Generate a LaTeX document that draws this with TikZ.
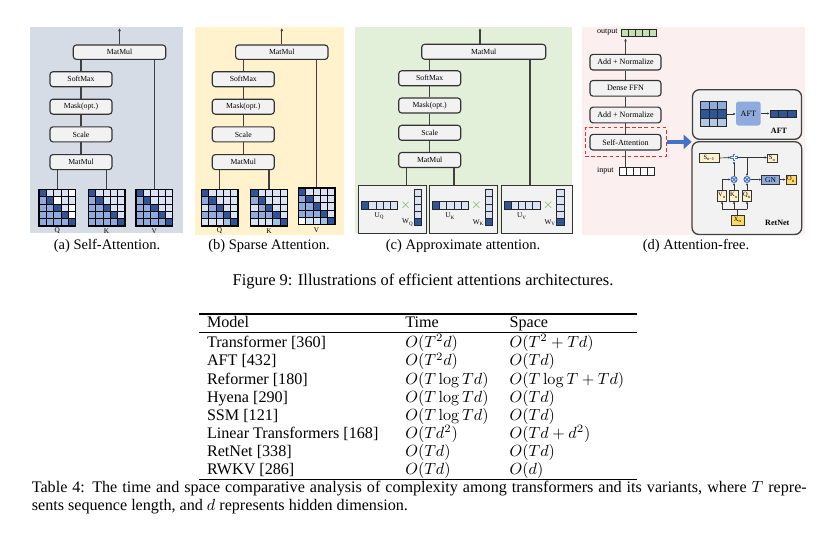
\documentclass[tikz,border=0pt]{standalone}
\usepackage[no-math]{fontspec}
\setmainfont{Liberation Serif}
\usetikzlibrary{arrows.meta}
\newlength\upx
\setlength\upx{0.62pt}
\definecolor{cD}{HTML}{2F5597}
\definecolor{cM}{HTML}{8FAADC}
\definecolor{cN}{HTML}{B4C7E7}
\definecolor{cL}{HTML}{DAE3F3}
\definecolor{cW}{HTML}{FFFFFF}
\definecolor{cS}{HTML}{9DC3E6}
\definecolor{cG}{HTML}{C5E0B4}
\definecolor{bgA}{HTML}{D6DCE5}
\definecolor{bgB}{HTML}{FFF2CC}
\definecolor{bgC}{HTML}{E2F0D9}
\definecolor{bgD}{HTML}{FBF0EF}
\definecolor{boxgray}{HTML}{F2F2F2}
\definecolor{lyel}{HTML}{FFF2CC}
\definecolor{dyel}{HTML}{FFD966}
\definecolor{aftblue}{HTML}{8FAADC}
\definecolor{arrowblue}{HTML}{4472C4}
\definecolor{plusblue}{HTML}{4472C4}
\definecolor{dashred}{HTML}{E03030}
\definecolor{xgreen}{HTML}{70AD47}
\newcommand\boxfont{\fontsize{4.8}{5.5}\selectfont}
\newcommand\dfont{\fontsize{5}{6}\selectfont}
\newcommand\rfont{\fontsize{4}{4.5}\selectfont}
\newcommand\fivemat[3]{%
  \foreach \mc [count=\mi from 0] in {#3} {%
    \pgfmathtruncatemacro\mrow{\mi/5}%
    \pgfmathtruncatemacro\mcol{\mi-5*\mrow}%
    \filldraw[fill=c\mc, draw=black, line width=0.45pt] ({#1+\mcol*7.33},{#2+\mrow*7.33}) rectangle ++(7.33,7.33);
  }%
}
\newcommand\apbox[4]{%
  \node[apb, minimum width=#3\upx, anchor=north west] (#1) at (#2,185) {};
  \foreach \k in {0,...,4} {
    \filldraw[fill=cL, cellline] ({#2+3.3+\k*7.2},201.7) rectangle ++(7.2,7.6);
    \filldraw[fill=cL, cellline] ({#2+56},{189.3+\k*7.3}) rectangle ++(7.4,7.3);
  }
  \filldraw[fill=cD, cellline] ({#2+3.3},201.7) rectangle ++(7.2,7.6);
  \filldraw[fill=cD, cellline] ({#2+56},{189.3+4*7.3}) rectangle ++(7.4,7.3);
  \node[greenx] (#1x) at ({#2+47.4},205.5) {$\times$};
  \node[lbl] (#1u) at ({#2+21.3},216) {U\textsubscript{#4}};
  \node[lbl, anchor=east] (#1w) at ({#2+55.5},222.5) {W\textsubscript{#4}};
}
\begin{document}
\begin{tikzpicture}[x=0.62pt,y=-0.62pt,
  blk/.style={draw=black!80, fill=boxgray, rounded corners=3\upx, line width=0.7pt, inner sep=0, font=\boxfont},
  sbox/.style={minimum width=62\upx, minimum height=15\upx},
  dbox/.style={blk, font=\dfont, minimum width=71\upx, minimum height=15.7\upx},
  conn/.style={draw=black!75, line width=0.75pt},
  arr/.style={conn, -{Latex[length=1.9pt,width=1.8pt]}},
  sarr/.style={draw=black!80, line width=0.4pt, -{Latex[length=1.4pt,width=1.4pt]}},
  matnode/.style={draw=black, line width=0.8pt, minimum size=36.65\upx, inner sep=0},
  lbl/.style={font=\fontsize{4.5}{5}\selectfont, inner sep=0},
  cellline/.style={draw=black!85, line width=0.4pt},
  apb/.style={draw=black!80, fill=boxgray, line width=0.6pt, minimum height=48.3\upx, inner sep=0},
  greenx/.style={text=xgreen, font=\fontsize{8}{8}\selectfont, inner sep=0},
  rbox/.style={draw=black!75, fill=boxgray, rounded corners=7\upx, line width=0.8pt, inner sep=0},
  ybox/.style={draw=black!80, fill=lyel, line width=0.4pt, inner sep=0, font=\rfont},
  mulnode/.style={circle, draw=plusblue, line width=0.6pt, minimum size=6\upx, inner sep=0},
  subcap/.style={font=\fontsize{9}{11}\selectfont, inner sep=0},
  tab/.style={font=\fontsize{10}{12}\selectfont, inner sep=0, anchor=base west}
]
\useasboundingbox (0,0) rectangle (826,534);
\fill[white] (0,0) rectangle (826,534);
% backgrounds
\fill[bgA] (30,27) rectangle (183,233);
\fill[bgB] (195,27) rectangle (344,235);
\fill[bgC] (355,27) rectangle (572,233);
\fill[bgD] (582,27) rectangle (805,235);

% ---------------- (a) ----------------
\node[blk, minimum width=92.4\upx, minimum height=14.3\upx] (aMM1) at (119.5,52.2) {MatMul};
\node[blk, sbox] (aSM) at (81,79.2) {SoftMax};
\node[blk, sbox] (aMK) at (81,106.7) {Mask(opt.)};
\node[blk, sbox] (aSC) at (81,134.4) {Scale};
\node[blk, sbox] (aMM2) at (81,162.1) {MatMul};
\coordinate (aOut) at (119.5,28);
\fivemat{39}{189.3}{D,L,L,L,W, M,D,W,L,L, M,M,D,L,W, M,M,M,D,W, M,M,M,M,D}
\fivemat{88.3}{189.3}{D,L,L,L,L, M,D,L,L,L, M,M,D,L,L, M,M,M,D,L, M,M,M,M,D}
\fivemat{136}{189.3}{D,L,L,L,L, M,D,L,L,L, M,M,D,L,L, M,M,M,D,L, M,M,M,M,D}
\node[matnode] (aQ) at (57.33,207.63) {};
\node[matnode] (aK) at (106.63,207.63) {};
\node[matnode] (aV) at (154.33,207.63) {};
\node[lbl] (aQl) at (57.3,231) {Q};
\node[lbl] (aKl) at (106.6,231) {K};
\node[lbl] (aVl) at (154.3,231) {V};
\draw[arr] (aMM1.north) -- (aOut);
\draw[conn] (aMM1.south -| aSM.north) -- (aSM.north);
\draw[conn] (aSM) -- (aMK);
\draw[conn] (aMK) -- (aSC);
\draw[conn] (aSC) -- (aMM2);
\draw[conn] (aMM2.south -| aQ.north) -- (aQ.north);
\draw[conn] (aMM2.south -| aK.north) -- (aK.north);
\draw[conn] (aMM1.south -| aV.north) -- (aV.north);

% ---------------- (b) ----------------
\begin{scope}[shift={(162.3,0)}]
\node[blk, minimum width=92.4\upx, minimum height=14.3\upx] (bMM1) at (119.5,52.2) {MatMul};
\node[blk, sbox] (bSM) at (81,79.2) {SoftMax};
\node[blk, sbox] (bMK) at (81,106.7) {Mask(opt.)};
\node[blk, sbox] (bSC) at (81,134.4) {Scale};
\node[blk, sbox] (bMM2) at (81,162.1) {MatMul};
\coordinate (bOut) at (119.5,28);
\fivemat{39}{189.3}{D,L,L,L,L, M,D,L,L,L, L,M,D,L,L, M,M,M,D,L, L,L,L,S,D}
\fivemat{88.3}{189.3}{D,L,L,L,L, M,D,L,L,L, L,M,D,L,L, M,M,M,D,L, L,L,L,S,D}
\fivemat{136}{188}{D,L,L,L,L, M,D,L,L,L, M,M,D,L,L, M,M,M,D,L, W,L,L,S,D}
\node[matnode] (bQ) at (57.33,207.63) {};
\node[matnode] (bK) at (106.63,207.63) {};
\node[matnode] (bV) at (154.33,206.33) {};
\node[lbl] (bQl) at (57.3,231) {Q};
\node[lbl] (bKl) at (106.6,231) {K};
\node[lbl] (bVl) at (154.3,230) {V};
\draw[arr] (bMM1.north) -- (bOut);
\draw[conn] (bMM1.south -| bSM.north) -- (bSM.north);
\draw[conn] (bSM) -- (bMK);
\draw[conn] (bMK) -- (bSC);
\draw[conn] (bSC) -- (bMM2);
\draw[conn] (bMM2.south -| bQ.north) -- (bQ.north);
\draw[conn] (bMM2.south -| bK.north) -- (bK.north);
\draw[conn] (bMM1.south -| bV.north) -- (bV.north);
\end{scope}

% ---------------- (c) ----------------
\node[blk, minimum width=124\upx, minimum height=15\upx] (cMM1) at (483.7,51.8) {MatMul};
\node[blk, sbox] (cSM) at (429.7,78.3) {SoftMax};
\node[blk, sbox] (cMK) at (429.7,105.5) {Mask(opt.)};
\node[blk, sbox] (cSC) at (429.7,132.8) {Scale};
\node[blk, sbox] (cMM2) at (429.7,160) {MatMul};
\coordinate (cOut) at (480,28);
\apbox{cQ}{358.3}{67.7}{Q}
\apbox{cK}{429}{67.7}{K}
\apbox{cV}{500.7}{71}{V}
\draw[arr] (cMM1.north -| cOut) -- (cOut);
\draw[conn] (cMM1.south -| cSM.north) -- (cSM.north);
\draw[conn] (cSM) -- (cMK);
\draw[conn] (cMK) -- (cSC);
\draw[conn] (cSC) -- (cMM2);
\path ([xshift=-23\upx]cMM2.south) coordinate (cL1);
\path ([xshift=24.3\upx]cMM2.south) coordinate (cL2);
\path ([xshift=46.3\upx]cMM1.south) coordinate (cL3);
\draw[conn] (cL1) -- (cL1 |- cQ.north);
\draw[conn] (cL2) -- (cL2 |- cK.north);
\draw[conn] (cL3) -- (cL3 |- cV.north);

% ---------------- (d) ----------------
\node[dbox] (dAN1) at (625.5,62.2) {Add + Normalize};
\node[dbox] (dFFN) at (625.5,88.3) {Dense FFN};
\node[dbox] (dAN2) at (625.5,115) {Add + Normalize};
\node[dbox] (dSA) at (625.5,142.2) {Self-Attention};
\node[draw=dashred, dash pattern=on 2.2pt off 1.6pt, line width=0.6pt, minimum width=81.7\upx, minimum height=28.3\upx, inner sep=0] (dDash) at (625.85,141.85) {};
% output vector
\foreach \k in {0,...,4} \filldraw[fill=cG, cellline] ({621+\k*7},29.3) rectangle ++(7,7.2);
\node[draw=black!85, line width=0.5pt, minimum width=35\upx, minimum height=7.2\upx, inner sep=0] (dOutV) at (638.5,32.9) {};
\node[font=\dfont, inner sep=0, anchor=east] (dOutL) at (618,32.5) {output};
% input vector
\foreach \k in {0,...,4} \filldraw[fill=white, cellline] ({619.3+\k*7},167.7) rectangle ++(7,7.3);
\node[draw=black!85, line width=0.5pt, minimum width=35\upx, minimum height=7.3\upx, inner sep=0] (dInV) at (636.8,171.35) {};
\node[font=\dfont, inner sep=0, anchor=east] (dInL) at (614,170.8) {input};
\draw[arr] (dAN1.north) -- ([yshift=-1.5\upx]dAN1.north |- dOutV.south);
\draw[conn] (dFFN) -- (dAN1);
\draw[conn] (dAN2) -- (dFFN);
\draw[conn] (dSA) -- (dAN2);
\draw[conn] (dSA.south) -- (dSA.south |- dInV.north);
% AFT box
\node[rbox, minimum width=109\upx, minimum height=49.6\upx] (dAFTb) at (747,114.5) {};
\foreach \mc [count=\mi from 0] in {M,M,M,D,D,D,N,N,N} {
  \pgfmathtruncatemacro\mrow{\mi/3}
  \pgfmathtruncatemacro\mcol{\mi-3*\mrow}
  \filldraw[fill=c\mc, draw=black!85, line width=0.4pt] ({700+\mcol*8.83},{101.3+\mrow*8.4}) rectangle ++(8.83,8.4);
}
\node[draw=black!85, line width=0.5pt, minimum width=26.5\upx, minimum height=25.2\upx, inner sep=0] (dAM) at (713.25,113.9) {};
\node[fill=aftblue, rounded corners=2.5\upx, minimum width=24.5\upx, minimum height=24\upx, inner sep=0, font=\dfont] (dAFT) at (748.3,113.5) {AFT};
\foreach \k in {0,...,2} \filldraw[fill=cD, cellline] ({770+\k*8.67},110) rectangle ++(8.67,7.5);
\node[draw=black!85, line width=0.5pt, minimum width=26\upx, minimum height=7.5\upx, inner sep=0] (dAV) at (783,113.75) {};
\draw[sarr] (dAM.east) -- (dAM.east -| dAFT.west);
\draw[sarr] (dAFT.east) -- (dAFT.east -| dAV.west);
\node[font=\fontsize{5}{6}\selectfont\bfseries, inner sep=0] (dAFTl) at (779,131) {AFT};
% blue arrow
\coordinate (dBA) at (691.7,141.85);
\draw[draw=arrowblue, line width=4.5\upx, -{Triangle[length=5pt,width=8.7pt]}] (dDash.east) -- (dBA);
% RetNet box
\node[rbox, minimum width=109.7\upx, minimum height=92.8\upx] (dRNb) at (746.85,188.1) {};
\node[ybox, minimum width=20\upx, minimum height=9.4\upx] (dS1) at (709.3,158) {S\textsubscript{n−1}};
\node[circle, minimum size=7\upx, inner sep=0] (dPlus) at (734,157.5) {};
\draw[plusblue, line width=2.6\upx] (dPlus.north) -- (dPlus.south) (dPlus.west) -- (dPlus.east);
\draw[white, line width=0.9\upx] ([yshift=-0.9\upx]dPlus.north) -- ([yshift=0.9\upx]dPlus.south) ([xshift=0.9\upx]dPlus.west) -- ([xshift=-0.9\upx]dPlus.east);
\node[ybox, minimum width=10\upx, minimum height=8.7\upx] (dSn) at (772.3,158.3) {S\textsubscript{n}};
\node[mulnode] (dM1) at (734,179.5) {};
\node[mulnode] (dM2) at (747,179.5) {};
\draw[plusblue, line width=0.6pt] (dM1.45) -- (dM1.225) (dM1.135) -- (dM1.315);
\draw[plusblue, line width=0.6pt] (dM2.45) -- (dM2.225) (dM2.135) -- (dM2.315);
\node[ybox, fill=aftblue, minimum width=17.6\upx, minimum height=9.3\upx, font=\fontsize{4.6}{5}\selectfont] (dGN) at (770.5,179.6) {GN};
\node[ybox, fill=dyel, minimum width=10\upx, minimum height=9.3\upx] (dO) at (791,179.6) {O\textsubscript{n}};
\node[ybox, minimum width=9.5\upx, minimum height=11\upx] (dV) at (722,195.5) {V\textsubscript{n}};
\node[ybox, minimum width=9.5\upx, minimum height=11\upx] (dK) at (734,195.5) {K\textsubscript{n}};
\node[ybox, minimum width=9.5\upx, minimum height=11\upx] (dQ) at (747,195.5) {Q\textsubscript{n}};
\node[ybox, fill=dyel, minimum width=12.3\upx, minimum height=10\upx] (dX) at (737.8,220) {X\textsubscript{n}};
\coordinate (dBus) at (737.8,209.3);
\draw[draw=black!80, line width=0.4pt] (dX.north) -- (dBus);
\draw[draw=black!80, line width=0.4pt] (dV.south |- dBus) -- (dQ.south |- dBus);
\draw[sarr] (dV.south |- dBus) -- (dV.south);
\draw[sarr] (dK.south |- dBus) -- (dK.south);
\draw[sarr] (dQ.south |- dBus) -- (dQ.south);
\draw[sarr] (dV.north) |- (dM1.west);
\draw[sarr] (dK.north) -- (dM1.south);
\draw[sarr] (dQ.north) -- (dM2.south);
\draw[sarr] (dM1.north) -- (dPlus.south);
\draw[sarr] (dS1.east) -- (dPlus.west);
\draw[sarr] (dPlus.east) -- (dSn.west |- dPlus.east);
\draw[sarr] (dM2.north |- dPlus.east) -- (dM2.north);
\draw[sarr] (dM2.east) -- (dGN.west);
\draw[sarr] (dGN.east) -- (dO.west);
\node[font=\fontsize{5}{6}\selectfont\bfseries, inner sep=0] (dRNl) at (777.3,223) {RetNet};

% ---------------- captions ----------------
\node[subcap] (capA) at (107,246) {(a) Self-Attention.};
\node[subcap] (capB) at (269,246) {(b) Sparse Attention.};
\node[subcap] (capC) at (463,246) {(c) Approximate attention.};
\node[subcap] (capD) at (696,246) {(d) Attention-free.};
\node[font=\fontsize{10.2}{12}\selectfont, inner sep=0] (figcap) at (423,281.5) {Figure 9: Illustrations of efficient attentions architectures.};

% ---------------- table ----------------
\draw[line width=0.8pt] (199,314) coordinate (tTL) -- (637,314) coordinate (tTR);
\draw[line width=0.5pt] (199,332.7) coordinate (tML) -- (637,332.7) coordinate (tMR);
\draw[line width=0.8pt] (199,479.3) coordinate (tBL) -- (637,479.3) coordinate (tBR);
\node[tab] (tH1) at (206.7,327.2) {Model};
\node[tab] (tH2) at (405,327.2) {Time};
\node[tab] (tH3) at (509.3,327.2) {Space};
\foreach \mmv/\tmv/\smv [count=\r] in {
  {Transformer [360]}/{$O(T^2d)$}/{$O(T^2+Td)$},
  {AFT [432]}/{$O(T^2d)$}/{$O(Td)$},
  {Reformer [180]}/{$O(T\log Td)$}/{$O(T\log T+Td)$},
  {Hyena [290]}/{$O(T\log Td)$}/{$O(Td)$},
  {SSM [121]}/{$O(T\log Td)$}/{$O(Td)$},
  {Linear Transformers [168]}/{$O(Td^2)$}/{$O(Td+d^2)$},
  {RetNet [338]}/{$O(Td)$}/{$O(Td)$},
  {RWKV [286]}/{$O(Td)$}/{$O(d)$}} {
  \node[tab] (tm\r) at (206.7,{347.8+(\r-1)*18.17}) {\mmv};
  \node[tab] (tt\r) at (405,{347.8+(\r-1)*18.17}) {\tmv};
  \node[tab] (ts\r) at (509.3,{347.8+(\r-1)*18.17}) {\smv};
}
\node[tab] (tc1) at (31.5,492.5) {\makebox[480.5pt][s]{Table 4: The time and space comparative analysis of complexity among transformers and its variants, where $T$ repre-}};
\node[tab] (tc2) at (31.5,510.5) {sents sequence length, and $d$ represents hidden dimension.};
\end{tikzpicture}
\end{document}
